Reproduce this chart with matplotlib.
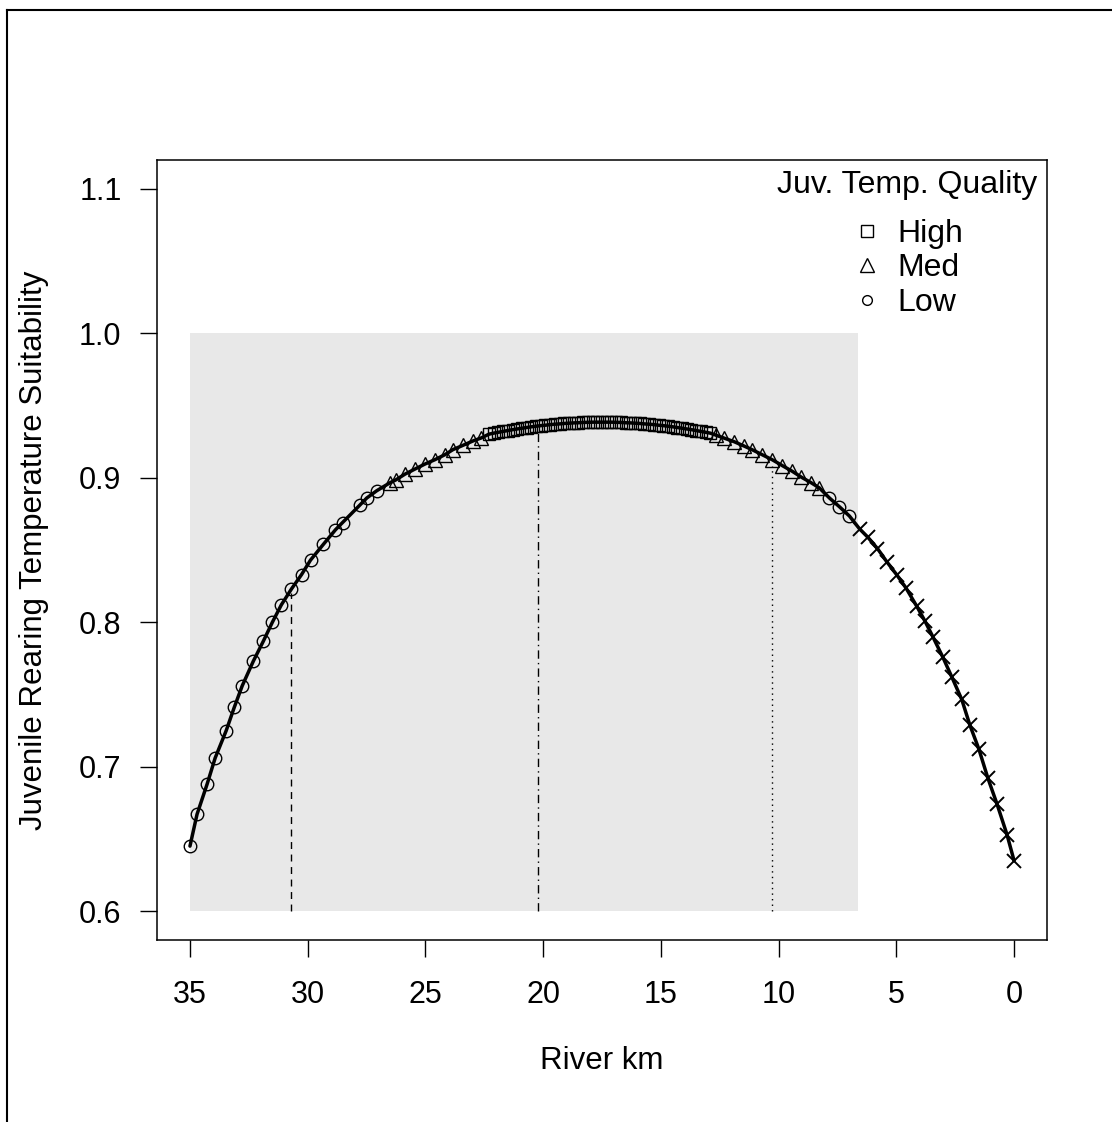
import matplotlib

matplotlib.use("Agg")
import matplotlib.pyplot as plt
from matplotlib.lines import Line2D
from matplotlib.patches import Rectangle

plt.rcParams["font.family"] = ["Liberation Sans", "DejaVu Sans"]

# suitability along the river, split by quality class
low_up_km = [35.00, 34.70, 34.27, 33.93, 33.46, 33.12, 32.78, 32.31, 31.88, 31.50,
             31.12, 30.69, 30.26, 29.88, 29.33, 28.82, 28.52, 27.79, 27.49, 27.07]
low_up_val = [0.645, 0.667, 0.688, 0.706, 0.725, 0.741, 0.756, 0.773, 0.787, 0.800,
              0.812, 0.823, 0.833, 0.843, 0.854, 0.864, 0.869, 0.881, 0.886, 0.891]

med_up_km = [26.51, 26.26, 25.87, 25.45, 25.02, 24.60, 24.17, 23.83, 23.40, 22.98, 22.64]
med_up_val = [0.8965, 0.8985, 0.9025, 0.9060, 0.9095, 0.9125, 0.9160, 0.9195, 0.9225,
              0.9255, 0.9275]

high_km = [22.3, 22.1, 21.9, 21.7, 21.5, 21.3, 21.1, 20.9, 20.7, 20.5, 20.3, 20.1,
           19.9, 19.7, 19.5, 19.3, 19.1, 18.9, 18.7, 18.5, 18.3, 18.1, 17.9, 17.7,
           17.5, 17.3, 17.1, 16.9, 16.7, 16.5, 16.3, 16.1, 15.9, 15.7, 15.5, 15.3,
           15.1, 14.9, 14.7, 14.5, 14.3, 14.1, 13.9, 13.7, 13.5, 13.3, 13.1, 12.9]
high_val = [0.9302, 0.9309, 0.9315, 0.9321, 0.9327, 0.9333, 0.9338, 0.9343, 0.9348,
            0.9353, 0.9357, 0.9361, 0.9364, 0.9368, 0.9371, 0.9373, 0.9376, 0.9378,
            0.9380, 0.9381, 0.9383, 0.9384, 0.9385, 0.9385, 0.9385, 0.9385, 0.9385,
            0.9384, 0.9383, 0.9381, 0.9380, 0.9378, 0.9376, 0.9373, 0.9371, 0.9368,
            0.9364, 0.9361, 0.9357, 0.9353, 0.9348, 0.9343, 0.9338, 0.9333, 0.9327,
            0.9321, 0.9315, 0.9309]

med_down_km = [12.66, 12.32, 11.89, 11.47, 11.13, 10.70, 10.27, 9.85, 9.42, 9.04, 8.61, 8.27]
med_down_val = [0.9295, 0.9275, 0.9250, 0.9220, 0.9195, 0.9160, 0.9125, 0.9085, 0.9045,
                0.9005, 0.8965, 0.8930]

low_down_km = [7.84, 7.42, 6.99]
low_down_val = [0.886, 0.880, 0.8735]

outside_km = [6.56, 6.22, 5.80, 5.41, 4.99, 4.60, 4.13, 3.79, 3.45, 3.03, 2.64, 2.22,
              1.88, 1.49, 1.11, 0.72, 0.30, 0.00]
outside_val = [0.8646, 0.859, 0.851, 0.842, 0.833, 0.824, 0.811, 0.801, 0.790, 0.776,
               0.762, 0.7465, 0.729, 0.712, 0.692, 0.674, 0.653, 0.635]

# study reach and the three reference sites
reach_km = (6.62, 35.0)
reach_val = (0.6, 1.0)
site_km = [30.7, 20.2, 10.3]
site_top = [0.820, 0.933, 0.908]
site_styles = [(0, (5, 4)), (0, (6, 3, 1, 3)), (0, (1, 3))]

x_ticks = [35, 30, 25, 20, 15, 10, 5, 0]
y_ticks = [0.6, 0.7, 0.8, 0.9, 1.0, 1.1]
legend_labels = ["High", "Med", "Low"]

FS = 22

fig = plt.figure(figsize=(11.12, 11.22), dpi=100)
ax = fig.add_axes([157 / 1112, 1 - 940 / 1122, 890 / 1112, 780 / 1122])

ax.add_patch(Rectangle((reach_km[0], reach_val[0]), reach_km[1] - reach_km[0],
                       reach_val[1] - reach_val[0], facecolor="#e8e8e8",
                       edgecolor="none", zorder=0))

for km, top, style in zip(site_km, site_top, site_styles):
    ax.plot([km, km], [reach_val[0], top], color="black", lw=1.0, linestyle=style, zorder=1)

all_km = low_up_km + med_up_km + high_km + med_down_km + low_down_km + outside_km
all_val = low_up_val + med_up_val + high_val + med_down_val + low_down_val + outside_val
ax.plot(all_km, all_val, color="black", lw=2.5, zorder=2, solid_capstyle="round")

point_style = dict(linestyle="none", markerfacecolor="none", markeredgecolor="black",
                   markeredgewidth=1.0, zorder=3)
ax.plot(low_up_km + low_down_km, low_up_val + low_down_val, marker="o", ms=9, **point_style)
ax.plot(med_up_km + med_down_km, med_up_val + med_down_val, marker="^", ms=10, **point_style)
ax.plot(high_km, high_val, marker="s", ms=8.5, **point_style)
ax.plot(outside_km, outside_val, marker="x", ms=10, linestyle="none", color="black",
        markeredgewidth=1.4, zorder=3)

ax.set_xlim(36.4, -1.4)
ax.set_ylim(0.58, 1.12)
ax.set_xticks(x_ticks)
ax.set_xticklabels([str(v) for v in x_ticks])
ax.set_yticks(y_ticks)
ax.set_yticklabels([f"{v:.1f}" for v in y_ticks])
ax.tick_params(direction="out", length=12, width=1.0, labelsize=FS)
ax.tick_params(axis="y", pad=13.5)
ax.tick_params(axis="x", pad=17)
for spine in ax.spines.values():
    spine.set_linewidth(1.1)

ax.set_xlabel("River km", fontsize=22.5, labelpad=26)
ax.set_ylabel("Juvenile Rearing Temperature Suitability", fontsize=22.5, labelpad=22)

handles = [
    Line2D([], [], marker="s", ms=9, linestyle="none", markerfacecolor="none",
           markeredgecolor="black", markeredgewidth=1.0),
    Line2D([], [], marker="^", ms=10, linestyle="none", markerfacecolor="none",
           markeredgecolor="black", markeredgewidth=1.0),
    Line2D([], [], marker="o", ms=7, linestyle="none", markerfacecolor="none",
           markeredgecolor="black", markeredgewidth=1.0),
]
leg = ax.legend(handles, legend_labels, title="Juv. Temp. Quality", loc="upper right",
                bbox_to_anchor=(1.0, 1.0), frameon=False, fontsize=23, title_fontsize=23,
                handlelength=1.0, handletextpad=0.45, labelspacing=0.14,
                borderpad=0.0, borderaxespad=0.3)
# extra room between the legend title and its entries
leg._legend_box.sep = 14

# outer frame of the device region
fig.add_artist(Line2D([7 / 1112, 7 / 1112], [0, 1 - 10 / 1122], color="black", lw=1.5))
fig.add_artist(Line2D([7 / 1112, 1], [1 - 10 / 1122, 1 - 10 / 1122], color="black", lw=1.5))

fig.savefig("out.png", dpi=100)
plt.close(fig)
